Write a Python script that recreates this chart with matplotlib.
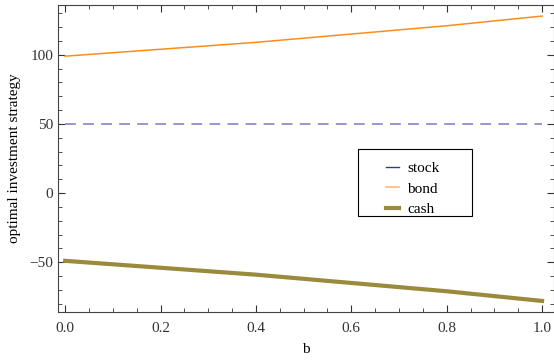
import numpy as np
import matplotlib.pyplot as plt
from matplotlib.patches import Rectangle
from matplotlib.ticker import MultipleLocator

plt.rcParams['font.family'] = ['Liberation Serif', 'DejaVu Serif']

b = [0.0, 0.2, 0.4, 0.6, 0.8, 1.0]
stock = [50, 50, 50, 50, 50, 50]
bond = [99, 104, 109, 115, 121, 128]
cash = [-49, -54, -59, -65, -71, -78]

fig = plt.figure(figsize=(5.54, 3.6), dpi=100)
ax = fig.add_axes([58 / 554, 48 / 360, 496 / 554, 307 / 360])

ax.plot(b, stock, color='#8f8fcc', lw=1.3, dashes=(6, 4), label='stock')
ax.plot(b, bond, color='#ff8c1a', lw=1.1, label='bond')
ax.plot(b, cash, color='#9a8a3c', lw=3, label='cash')

ax.set_xlim(-0.015, 1.025)
ax.set_ylim(-86, 136)

ax.xaxis.set_major_locator(MultipleLocator(0.2))
ax.xaxis.set_minor_locator(MultipleLocator(0.05))
ax.yaxis.set_major_locator(MultipleLocator(50))
ax.yaxis.set_minor_locator(MultipleLocator(10))
ax.xaxis.set_major_formatter(lambda x, pos: f"{x:.1f}")
ax.yaxis.set_major_formatter(lambda y, pos: f"{y:.0f}".replace('-', '\u2212'))

ax.tick_params(which='both', direction='in', top=True, right=True, labelsize=11, colors='#333333')
ax.tick_params(which='major', length=5, width=0.8)
ax.tick_params(axis='x', which='major', pad=7)
ax.tick_params(which='minor', length=3, width=0.6)
for s in ax.spines.values():
    s.set_color('#444444')
    s.set_linewidth(0.8)

ax.set_xlabel('b', fontsize=11, labelpad=6)
ax.set_ylabel('optimal investment strategy', fontsize=11, labelpad=6)

# legend box drawn by hand, Mathematica style
ax.add_patch(Rectangle((0.605, 0.313), 0.23, 0.218, transform=ax.transAxes,
                       facecolor='white', edgecolor='black', lw=0.8, zorder=4))
leg = ax.legend(loc='upper left', bbox_to_anchor=(0.645, 0.515), frameon=False,
                fontsize=11, handlelength=0.85, labelspacing=0.45, borderpad=0,
                handletextpad=0.55)
leg.set_zorder(5)
leg.legend_handles[0].set_linestyle('-')
leg.legend_handles[0].set_linewidth(1.0)
leg.legend_handles[0].set_color('#3333aa')
leg.legend_handles[1].set_color('#ffb070')

fig.savefig('out.png', dpi=100)
